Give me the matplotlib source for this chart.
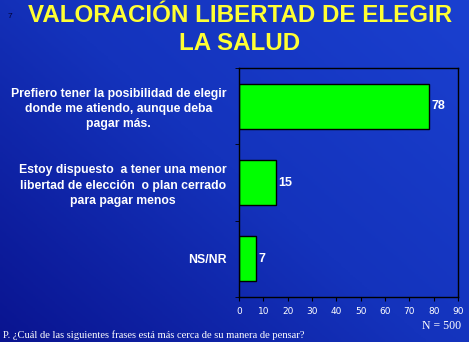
import matplotlib.pyplot as plt
import numpy as np
from matplotlib.colors import LinearSegmentedColormap

categories = [
    "Prefiero tener la posibilidad de elegir\ndonde me atiendo, aunque deba\npagar más.",
    "Estoy dispuesto  a tener una menor\nlibertad de elección  o plan cerrado\npara pagar menos",
    "NS/NR",
]
values = [78, 15, 7]
xticks = list(range(0, 91, 10))

W, H = 469, 342
fig = plt.figure(figsize=(W / 100, H / 100), dpi=100)

# gradient background
bg = fig.add_axes([0, 0, 1, 1], zorder=0)
xx, yy = np.meshgrid(np.linspace(0, 1, 200), np.linspace(0, 1, 200))
grad = 0.55 * xx + 0.45 * yy
cmap = LinearSegmentedColormap.from_list("bg", ["#0a1490", "#1433bc", "#1a40d0"])
bg.imshow(grad, cmap=cmap, origin="lower", extent=[0, 1, 0, 1], aspect="auto")
bg.axis("off")

ax = fig.add_axes([239 / W, 1 - 297 / H, 219 / W, 229 / H], zorder=1)
ax.patch.set_alpha(0)
y = np.arange(len(values))
ax.barh(y, values, height=0.59, color="#00ff00", edgecolor="black", linewidth=1)
for yi, v in zip(y, values):
    ax.text(v + 1.2, yi, str(v), color="white", fontweight="bold", fontsize=9,
            va="center", ha="left", family="Liberation Sans")

ax.set_xlim(0, 90)
ax.set_ylim(len(values) - 0.5, -0.5)
ax.set_xticks(xticks)
ax.set_xticklabels([str(t) for t in xticks], color="white", fontsize=6.5,
                   family="Liberation Sans Narrow")
ax.set_yticks(y)
ax.set_yticklabels(categories, color="white", fontweight="bold", fontsize=8.8,
                   family="Liberation Sans", multialignment="center",
                   linespacing=1.35)
ax.tick_params(axis="y", length=0, pad=9)
ax.set_yticks(np.arange(-0.5, len(values), 1), minor=True)
ax.tick_params(axis="y", which="minor", length=3, color="black")
ax.tick_params(axis="x", length=3, color="black", pad=4)
for s in ax.spines.values():
    s.set_color("black")
    s.set_linewidth(1)

fig.text(240 / W, 1 - 15 / H, "VALORACIÓN LIBERTAD DE ELEGIR", color="#ffff33",
         fontsize=17.4, fontweight="bold", ha="center", va="center",
         family="Liberation Sans")
fig.text(240 / W, 1 - 43 / H, "LA SALUD", color="#ffff33",
         fontsize=17.4, fontweight="bold", ha="center", va="center",
         family="Liberation Sans")
fig.text(10 / W, 1 - 16 / H, "7", color="#000033", fontsize=6, ha="center",
         va="center", family="Liberation Sans")
fig.text(3 / W, 1 - 335 / H,
         "P. ¿Cuál de las siguientes frases está más cerca de su manera de pensar?",
         color="white", fontsize=7.6, ha="left", va="center", family="Liberation Serif")
fig.text(461 / W, 1 - 326 / H, "N = 500", color="white", fontsize=8.5,
         ha="right", va="center", family="Liberation Serif")

fig.savefig("out.png", dpi=100)
